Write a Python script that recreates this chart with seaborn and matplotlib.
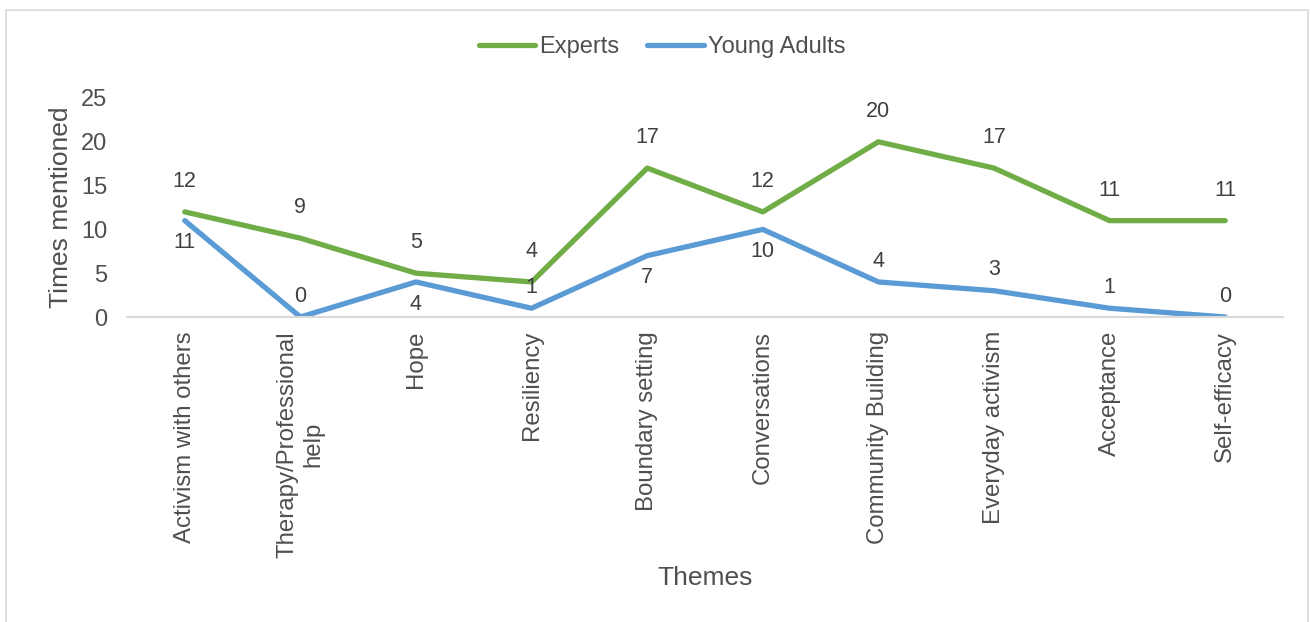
import matplotlib
matplotlib.use("Agg")
import matplotlib.pyplot as plt
import seaborn as sns
import pandas as pd
from matplotlib.patches import Rectangle

themes = ["Activism with others", "Therapy/Professional\nhelp", "Hope", "Resiliency",
          "Boundary setting", "Conversations", "Community Building",
          "Everyday activism", "Acceptance", "Self-efficacy"]
experts = [12, 9, 5, 4, 17, 12, 20, 17, 11, 11]
young_adults = [11, 0, 4, 1, 7, 10, 4, 3, 1, 0]
# label side for Young Adults data labels (as placed in the original)
ya_label_side = ["below", "above", "below", "above", "below", "below",
                 "above", "above", "above", "above"]
yticks = [0, 5, 10, 15, 20, 25]

sns.set_theme(style="white")
plt.rcParams['font.family'] = ['Liberation Sans', 'DejaVu Sans']

df = pd.DataFrame({
    "Theme": themes * 2,
    "Times mentioned": experts + young_adults,
    "Group": ["Experts"] * len(themes) + ["Young Adults"] * len(themes),
})

green = "#70AD47"
blue = "#5B9BD5"
text_col = "#4F4F4F"
label_col = "#404040"

fig = plt.figure(figsize=(13.1, 6.22), dpi=100)
ax = fig.add_axes([127 / 1310, 1 - 317 / 622, (1283 - 127) / 1310, (317 - 98) / 622])

sns.lineplot(data=df, x="Theme", y="Times mentioned", hue="Group",
             palette={"Experts": green, "Young Adults": blue},
             linewidth=3.8, sort=False, ax=ax, legend=True)
for ln in ax.lines:
    ln.set_solid_capstyle("round")
    ln.set_solid_joinstyle("round")

ax.set_xlim(-0.5, len(themes) - 0.5)
ax.set_ylim(0, 25)
ax.set_yticks(yticks)
ax.set_yticklabels([str(t) for t in yticks], fontsize=17, color=text_col)
ax.set_xticks(range(len(themes)))
ax.set_xticklabels(themes, rotation=90, ha="center", va="top",
                   multialignment="center", fontsize=17.3, color=text_col)
ax.tick_params(axis="both", length=0)
ax.tick_params(axis="y", pad=14)
ax.tick_params(axis="x", pad=10)

for s in ["top", "right", "left"]:
    ax.spines[s].set_visible(False)
ax.spines["bottom"].set_color("#D9D9D9")
ax.spines["bottom"].set_linewidth(1.5)
ax.grid(False)

ax.set_ylabel("Times mentioned", fontsize=19, color=text_col, labelpad=6)
ax.set_xlabel("Themes", fontsize=19, color=text_col, labelpad=6)

# data labels
for i, v in enumerate(experts):
    ax.annotate(str(v), (i, v), xytext=(0, 22), textcoords="offset points",
                ha="center", va="center", fontsize=15.5, color=label_col)
for i, (v, side) in enumerate(zip(young_adults, ya_label_side)):
    dy = -16 if side == "below" else 15
    ax.annotate(str(v), (i, v), xytext=(0, dy), textcoords="offset points",
                ha="center", va="center", fontsize=15.5, color=label_col)

handles, labels = ax.get_legend_handles_labels()
ax.legend(handles, labels, loc="center", bbox_to_anchor=(662 / 1310, 1 - 47 / 622),
          bbox_transform=fig.transFigure, ncol=2, frameon=False, fontsize=17,
          handlelength=2.4, handletextpad=0.15, columnspacing=1.2,
          labelcolor=text_col)

fig.patches.append(Rectangle((6 / 1310, -0.02), (1308 - 6) / 1310, 1.02 - 10 / 622,
                             transform=fig.transFigure, fill=False,
                             edgecolor="#D9D9D9", linewidth=1.2))

fig.savefig("out.png", dpi=100)
